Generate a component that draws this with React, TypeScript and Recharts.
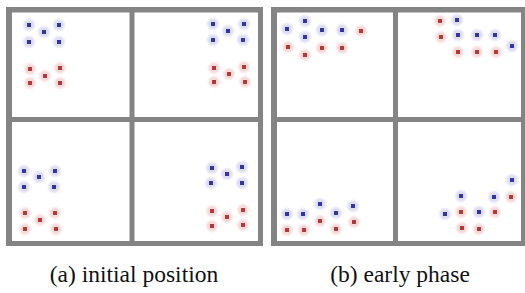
import { ReferenceArea, Scatter, ScatterChart, XAxis, YAxis } from "recharts";

// dot centres (pixels, y down)
const blueA = [
  [29, 25], [44, 32], [59, 25], [29, 42], [59, 42],
  [213, 24], [228, 31], [244, 24], [213, 40], [243, 40],
  [24, 171], [39, 177], [55, 171], [24, 187], [54, 187],
  [212, 168], [227, 174], [242, 167], [211, 183], [242, 183],
];
const redA = [
  [30, 69], [45, 76], [60, 68], [30, 83], [60, 83],
  [214, 68], [229, 74], [244, 67], [214, 82], [245, 82],
  [25, 213], [40, 220], [55, 213], [25, 229], [56, 229],
  [212, 211], [227, 217], [243, 210], [212, 226], [243, 225],
];
const blueB = [
  [287, 29], [305, 21], [305, 37], [322, 30], [342, 30],
  [457, 20], [458, 35], [477, 35], [495, 35], [512, 46],
  [287, 214], [303, 214], [320, 204], [336, 213], [353, 206],
  [512, 180], [461, 196], [494, 197], [445, 214], [479, 212],
];
const redB = [
  [288, 47], [305, 55], [322, 48], [342, 48], [361, 31],
  [440, 21], [441, 37], [458, 52], [477, 52], [496, 52],
  [287, 230], [304, 230], [320, 221], [336, 229], [354, 222],
  [511, 197], [461, 212], [495, 212], [462, 228], [479, 229],
];
const captions = ["(a) initial position", "(b) early phase"];

const GRAY = "#848484";
const panels = [
  { x1: 6, x2: 263, mid: 129.5, caption: 134 },
  { x1: 271, x2: 526, mid: 393, caption: 400 },
];

const toPts = (a: number[][]) => a.map(([x, y]) => ({ x, y }));

const makeDot = (core: string, halo: string, halo2: string) => (p: any) => (
  <g>
    <circle cx={p.cx} cy={p.cy} r={6.5} fill={halo2} />
    <circle cx={p.cx} cy={p.cy} r={4.8} fill={halo} />
    <rect x={p.cx - 2} y={p.cy - 2} width={4} height={4} fill={core} />
  </g>
);

export default function App() {
  return (
    <div style={{ position: "absolute", left: 0, top: 0, width: 525, height: 293, background: "#fff" }}>
      <ScatterChart width={525} height={250} margin={{ top: 0, right: 0, bottom: 0, left: 0 }}>
        <XAxis type="number" dataKey="x" domain={[0, 525]} hide />
        <YAxis type="number" dataKey="y" domain={[0, 250]} reversed hide />
        {panels.map((p, i) => (
          <ReferenceArea key={`o${i}`} x1={p.x1} x2={p.x2} y1={7} y2={246} fill={GRAY} fillOpacity={1} stroke="none" ifOverflow="hidden" />
        ))}
        {panels.map((p, i) => [
          <ReferenceArea key={`c1${i}`} x1={p.x1 + 6} x2={p.mid} y1={12.5} y2={117} fill="#fff" fillOpacity={1} stroke="none" ifOverflow="hidden" />,
          <ReferenceArea key={`c2${i}`} x1={p.mid + 5} x2={p.x2 - 5} y1={12.5} y2={117} fill="#fff" fillOpacity={1} stroke="none" ifOverflow="hidden" />,
          <ReferenceArea key={`c3${i}`} x1={p.x1 + 6} x2={p.mid} y1={122} y2={241} fill="#fff" fillOpacity={1} stroke="none" ifOverflow="hidden" />,
          <ReferenceArea key={`c4${i}`} x1={p.mid + 5} x2={p.x2 - 5} y1={122} y2={241} fill="#fff" fillOpacity={1} stroke="none" ifOverflow="hidden" />,
        ])}
        <Scatter data={toPts(blueA)} isAnimationActive={false} shape={makeDot("#3434a6", "#dedef3", "#eeeefa")} />
        <Scatter data={toPts(redA)} isAnimationActive={false} shape={makeDot("#b23a3a", "#f6dada", "#fbeeee")} />
        <Scatter data={toPts(blueB)} isAnimationActive={false} shape={makeDot("#3434a6", "#dedef3", "#eeeefa")} />
        <Scatter data={toPts(redB)} isAnimationActive={false} shape={makeDot("#b23a3a", "#f6dada", "#fbeeee")} />
      </ScatterChart>
      {captions.map((c, i) => (
        <div
          key={c}
          style={{
            position: "absolute",
            top: 263,
            left: panels[i].caption - 120,
            width: 240,
            textAlign: "center",
            fontFamily: "'Liberation Serif', 'Times New Roman', serif",
            fontSize: 23.5,
            lineHeight: 1,
            color: "#111",
            whiteSpace: "nowrap",
          }}
        >
          {c}
        </div>
      ))}
    </div>
  );
}
